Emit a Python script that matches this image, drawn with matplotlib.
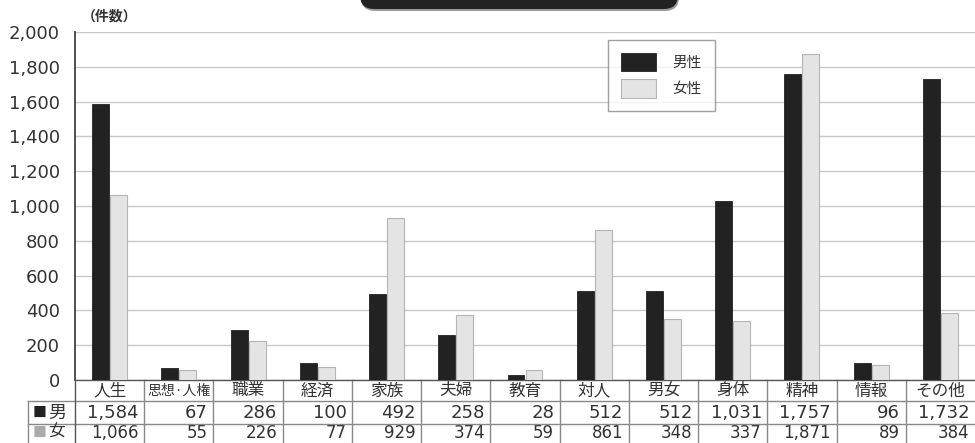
import matplotlib
matplotlib.use("Agg")
import matplotlib.pyplot as plt
import matplotlib.transforms as mtransforms
from matplotlib.patches import FancyBboxPatch
import numpy as np

plt.rcParams['font.family'] = ['DejaVu Sans', 'Noto Sans CJK JP']

categories = ['人生', '思想·人権', '職業', '経済', '家族', '夫婦', '教育', '対人', '男女', '身体', '精神', '情報', 'その他']
male = [1584, 67, 286, 100, 492, 258, 28, 512, 512, 1031, 1757, 96, 1732]
female = [1066, 55, 226, 77, 929, 374, 59, 861, 348, 337, 1871, 89, 384]
series_names = ['男性', '女性']
row_labels = ['男', '女']
yticks = [0, 200, 400, 600, 800, 1000, 1200, 1400, 1600, 1800, 2000]
unit_label = '（件数）'

W, H = 975, 443
fig = plt.figure(figsize=(W / 100, H / 100), dpi=100)

def fx(px):
    return px / W

def fy(py):
    return 1 - py / H

left_px, right_px, top_px, bot_px = 75, 975, 32, 380
ax = fig.add_axes([fx(left_px), fy(bot_px), fx(right_px - left_px), fy(top_px) - fy(bot_px)])

x = np.arange(len(categories))
bw = 0.245
off = 0.13
black = '#222222'
gray = '#e4e4e4'
ax.bar(x - off, male, bw, color=black, edgecolor=black, linewidth=0.6, label=series_names[0], zorder=3)
ax.bar(x + off, female, bw, color=gray, edgecolor='#b5b5b5', linewidth=0.8, label=series_names[1], zorder=3)

ax.set_xlim(-0.5, len(categories) - 0.5)
ax.set_ylim(0, 2000)
ax.set_yticks(yticks)
ax.set_yticklabels([f'{v:,}' for v in yticks], fontsize=13, color='#333333')
ax.tick_params(axis='y', length=0, pad=11)
ax.set_xticks([])
ax.yaxis.grid(True, color='#c8c8c8', linewidth=1.0, zorder=0)
ax.set_axisbelow(True)
for s in ['top', 'right']:
    ax.spines[s].set_visible(False)
ax.spines['left'].set_color('#333333')
ax.spines['left'].set_linewidth(1.2)
ax.spines['bottom'].set_color('#555555')
ax.spines['bottom'].set_linewidth(1.0)

# legend
leg = ax.legend(loc='upper left', bbox_to_anchor=(fx(608), fy(40)), bbox_transform=fig.transFigure,
                borderaxespad=0, frameon=True, fancybox=False, edgecolor='#888888',
                prop={'family': ['Noto Sans CJK JP'], 'size': 10.5}, handlelength=2.4, handleheight=1.55,
                borderpad=0.9, labelspacing=0.55, handletextpad=1.1)
leg.get_frame().set_linewidth(1.0)
for t in leg.get_texts():
    t.set_color('#333333')

# table below
tr = mtransforms.blended_transform_factory(ax.transData, fig.transFigure)
line_c = '#888888'
for yp in [401, 424]:
    fig.add_artist(plt.Line2D([fx(28), fx(975)], [fy(yp), fy(yp)], color=line_c, lw=1.0, transform=fig.transFigure))
fig.add_artist(plt.Line2D([fx(28), fx(28)], [fy(401), fy(446)], color=line_c, lw=1.0, transform=fig.transFigure))
fig.add_artist(plt.Line2D([fx(75), fx(75)], [fy(380), fy(446)], color='#555555', lw=1.0, transform=fig.transFigure))
for i in range(1, len(categories)):
    ax.add_line(plt.Line2D([i - 0.5, i - 0.5], [fy(380), fy(446)], color=line_c, lw=1.0,
                           transform=tr, clip_on=False))

jp = ['Noto Sans CJK JP']
for i, c in enumerate(categories):
    fs = 10 if len(c) > 3 else 12
    ax.text(i, fy(391), c, transform=tr, ha='center', va='center', fontsize=fs, family=jp, color='#333333')
    ax.text(i + 0.42, fy(413), f'{male[i]:,}', transform=tr, ha='right', va='center', fontsize=13, color='#333333')
    ax.text(i + 0.42, fy(432.5), f'{female[i]:,}', transform=tr, ha='right', va='center', fontsize=12, color='#333333')

# row labels
fig.text(fx(33), fy(413), '■', fontsize=10, family=jp, color='#222222', ha='left', va='center')
fig.text(fx(48), fy(413), row_labels[0], fontsize=13, family=jp, color='#333333', ha='left', va='center')
fig.text(fx(33), fy(432.5), '■', fontsize=10, family=jp, color='#aaaaaa', ha='left', va='center')
fig.text(fx(48), fy(432.5), row_labels[1], fontsize=12, family=jp, color='#333333', ha='left', va='center')

# unit label
fig.text(fx(82), fy(17), unit_label, fontsize=10, family=jp, color='#333333', ha='left', va='center',
         fontweight='bold')

# title box (cropped at top), drawn in pixel coordinates
ident = mtransforms.IdentityTransform()
shadow = FancyBboxPatch((361, H - 11), 318, 40, boxstyle='round,pad=0,rounding_size=14',
                        transform=ident, facecolor='#9a9a9a', edgecolor='none')
box = FancyBboxPatch((360, H - 9), 318, 40, boxstyle='round,pad=0,rounding_size=14',
                     transform=ident, facecolor='#222222', edgecolor='none')
fig.add_artist(shadow)
fig.add_artist(box)

fig.savefig('out.png', dpi=100)
